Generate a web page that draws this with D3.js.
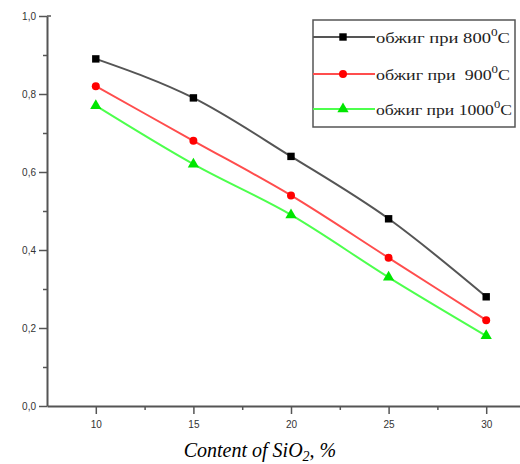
<!DOCTYPE html>
<html>
<head>
<meta charset="utf-8">
<script src="https://cdn.jsdelivr.net/npm/d3@7"></script>
<style>
  body { margin: 0; background: #fff; }
  svg { display: block; }
</style>
</head>
<body>
<svg id="chart" width="520" height="464"></svg>
<script>
// values
const sio2 = [10, 15, 20, 25, 30];
const fired800 = [0.89, 0.79, 0.64, 0.48, 0.28];
const fired900 = [0.82, 0.68, 0.54, 0.38, 0.22];
const fired1000 = [0.77, 0.62, 0.49, 0.33, 0.18];
const seriesNames = ['обжиг при 800', 'обжиг при  900', 'обжиг при 1000'];
const yTicks = [0, 0.2, 0.4, 0.6, 0.8, 1.0];

const svg = d3.select('#chart');

const x = d3.scaleLinear().domain([7.5, 32.5]).range([47, 535]);
const y = d3.scaleLinear().domain([0, 1]).range([406, 16]);

const fmt = v => d3.format('.1f')(v).replace('.', ',');

// y axis
svg.append('g')
    .attr('transform', `translate(${x(7.5)},0)`)
    .call(d3.axisLeft(y).tickValues(yTicks).tickFormat(fmt).tickSize(8).tickSizeOuter(0));
svg.append('g')
    .attr('transform', `translate(${x(7.5)},0)`)
    .call(d3.axisLeft(y).tickValues(d3.range(0.1, 1, 0.2)).tickFormat('').tickSize(4).tickSizeOuter(0))
    .select('.domain').remove();

// x axis
const xAxis = svg.append('g')
    .attr('transform', `translate(0,${y(0)})`)
    .call(d3.axisBottom(x).tickValues(sio2).tickSize(8).tickSizeOuter(0));
svg.append('g')
    .attr('transform', `translate(0,${y(0)})`)
    .call(d3.axisBottom(x).tickValues([12.5, 17.5, 22.5, 27.5, 32.5]).tickFormat('').tickSize(4).tickSizeOuter(0))
    .select('.domain').remove();

svg.selectAll('.domain').attr('stroke', '#555').attr('stroke-width', 2);
svg.selectAll('.tick line').attr('stroke', '#555').attr('stroke-width', 1.5);
svg.selectAll('.tick text')
    .attr('font-family', 'Liberation Sans, Arial, sans-serif')
    .attr('font-size', 10)
    .attr('fill', '#333');
xAxis.selectAll('.tick text').attr('dy', '1.1em');

// little hook at the top of the y axis
svg.append('line')
    .attr('x1', x(7.5)).attr('x2', x(7.5) + 4)
    .attr('y1', y(1)).attr('y2', y(1))
    .attr('stroke', '#555').attr('stroke-width', 1.5);

const series = [
    { name: seriesNames[0], values: fired800, line: '#555', mark: '#000', shape: d3.symbolSquare, size: 55, tl: 134 },
    { name: seriesNames[1], values: fired900, line: '#ff4d4d', mark: '#ff0000', shape: d3.symbolCircle, size: 50, tl: 134 },
    { name: seriesNames[2], values: fired1000, line: '#4dff4d', mark: '#00e600', shape: d3.symbolTriangle, size: 55, tl: 136 }
];

const line = d3.line()
    .x((d, i) => x(sio2[i]))
    .y(d => y(d))
    .curve(d3.curveMonotoneX);

series.forEach(s => {
    svg.append('path')
        .attr('d', line(s.values))
        .attr('fill', 'none')
        .attr('stroke', s.line)
        .attr('stroke-width', 2);
    svg.selectAll(null)
        .data(s.values)
        .enter().append('path')
        .attr('d', d3.symbol().type(s.shape).size(s.size))
        .attr('transform', (d, i) => `translate(${x(sio2[i])},${y(d)})`)
        .attr('fill', s.mark);
});

// legend
const legend = svg.append('g');
legend.append('rect')
    .attr('x', 313).attr('y', 20)
    .attr('width', 202).attr('height', 107)
    .attr('fill', '#fff')
    .attr('stroke', '#555').attr('stroke-width', 1.5);

const rowY = [37, 74, 109];
series.forEach((s, i) => {
    const g = legend.append('g').attr('transform', `translate(0,${rowY[i]})`);
    g.append('line')
        .attr('x1', 313).attr('x2', 375)
        .attr('stroke', s.line).attr('stroke-width', 2);
    g.append('path')
        .attr('d', d3.symbol().type(s.shape).size(s.size))
        .attr('transform', 'translate(343,0)')
        .attr('fill', s.mark);
    const t = g.append('text')
        .attr('x', 376).attr('y', 6)
        .attr('font-family', 'Liberation Serif, Times New Roman, serif')
        .attr('font-size', 14)
        .attr('fill', '#222')
        .attr('textLength', s.tl)
        .attr('lengthAdjust', 'spacingAndGlyphs')
        .style('white-space', 'pre');
    t.append('tspan').text(s.name);
    t.append('tspan').attr('dy', -7).attr('font-size', 10).text('0');
    t.append('tspan').attr('dy', 7).text('C');
});

// x title
const title = svg.append('text')
    .attr('x', 260).attr('y', 457)
    .attr('text-anchor', 'middle')
    .attr('font-family', 'Liberation Serif, Times New Roman, serif')
    .attr('font-style', 'italic')
    .attr('font-size', 20)
    .attr('fill', '#000');
title.append('tspan').text('Content of SiO');
title.append('tspan').attr('dy', 4).attr('font-size', 14).text('2');
title.append('tspan').attr('dy', -4).text(', %');
</script>
</body>
</html>
